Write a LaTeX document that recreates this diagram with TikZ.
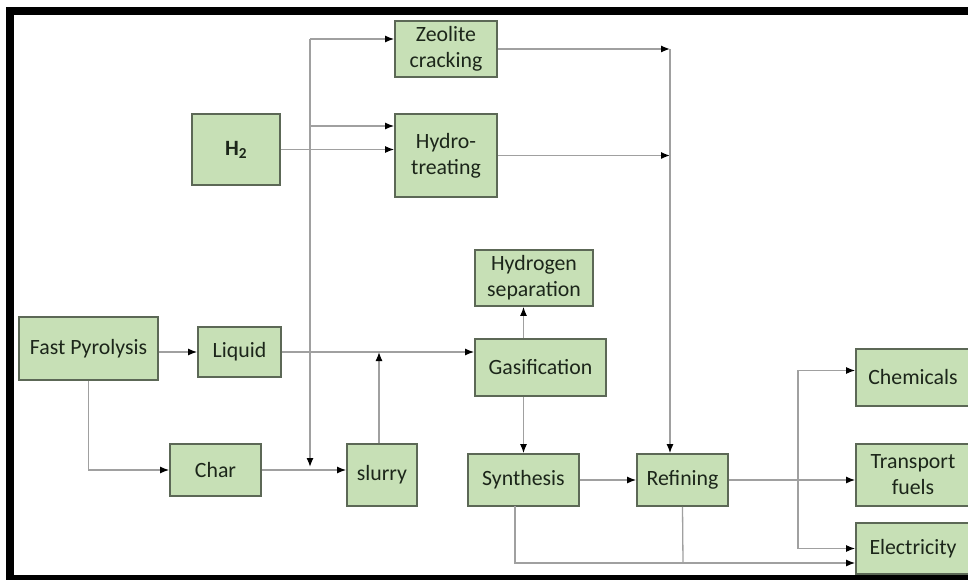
\documentclass[tikz,border=0pt]{standalone}
\usepackage{fontspec}
\setmainfont{Carlito}
\usetikzlibrary{positioning, arrows.meta, calc}
\definecolor{boxfill}{RGB}{199, 224, 182}
\definecolor{boxedge}{RGB}{92, 104, 86}
\definecolor{boxtext}{RGB}{28, 38, 26}
\definecolor{linegray}{RGB}{160, 160, 160}
\tikzset{
  procbox/.style={draw=boxedge, fill=boxfill, line width=1.8pt, align=center,
    inner sep=0pt, text=boxtext, font=\fontsize{21.8}{26}\selectfont},
  flow/.style={draw=linegray, line width=1.3pt},
  arr/.style={flow, -{Latex[length=9pt, width=7pt, color=black]}}
}

\begin{document}
\begin{tikzpicture}[x=1pt, y=-1pt]
                \useasboundingbox (0,0) rectangle (968,580);
                \clip (0,0) rectangle (968,580);
                % Frame
                \fill[black] (6,7) rectangle (968,15);
                \fill[black] (6,7) rectangle (14,580);
                \fill[black] (6,575) rectangle (968,580);

                % Boxes
                \node[procbox, minimum width=102, minimum height=56] (zeo) at (446,49) {Zeolite\\cracking};
                \node[procbox, minimum width=102, minimum height=83] (hyd) at (446,155.5) {Hydro-\\treating};
                \node[procbox, minimum width=88, minimum height=71] (htwo) at (236,149.5) {\textbf{H\textsubscript{2}}};
                \node[procbox, minimum width=118, minimum height=56] (hsep) at (534,278) {Hydrogen\\separation};
                \node[procbox, minimum width=139, minimum height=63] (fp) at (88.5,348.5) {Fast Pyrolysis};
                \node[procbox, minimum width=83, minimum height=50] (liq) at (239.5,352) {Liquid};
                \node[procbox, minimum width=91, minimum height=52] (char) at (215.5,470) {Char};
                \node[procbox, minimum width=70, minimum height=62] (slurry) at (382,475) {slurry};
                \node[procbox, minimum width=131, minimum height=57] (gas) at (540.5,367.5) {Gasification};
                \node[procbox, minimum width=111, minimum height=52] (syn) at (523.5,480) {Synthesis};
                \node[procbox, minimum width=91, minimum height=52] (ref) at (682.5,480) {Refining};
                \node[procbox, minimum width=114, minimum height=57] (chem) at (913,377.5) {Chemicals};
                \node[procbox, minimum width=114, minimum height=62] (tf) at (913,475) {Transport\\fuels};
                \node[procbox, minimum width=114, minimum height=51] (elec) at (913,548.5) {Electricity};

                % Junction points
                \coordinate (bustop) at (310,39);
                \coordinate (busmid) at (310,126);
                \coordinate (busbot) at (310,467);
                \coordinate (merge) at (379,352);
                \coordinate (collect) at (670,49);
                \coordinate (split) at (798,480);
                \coordinate (rail) at (683,563);
                \coordinate (synfoot) at (515,506);

                % Pyrolysis products
                \draw[arr] (fp.east |- liq.west) -- (liq.west);
                \draw[arr] (fp.south) |- (char.west);
                \draw[arr] (char.east) -- (slurry.west |- char.east);
                \draw[arr] (liq.east) -- (gas.west |- liq.east);
                \draw[arr] (merge |- slurry.north) -- (merge);

                % Upgrading bus
                \draw[arr] (bustop) -- (busbot);
                \draw[arr] (bustop) -- (zeo.west |- bustop);
                \draw[arr] (busmid) -- (hyd.west |- busmid);
                \draw[arr] (htwo.east) -- (hyd.west |- htwo.east);
                \draw[arr] (zeo.east) -- (collect |- zeo.east);
                \draw[arr] (hyd.east) -- (collect |- hyd.east);
                \draw[arr] (collect) -- (collect |- ref.north);

                % Gasification route
                \draw[arr] (gas.north -| syn.north) -- (hsep.south -| syn.north);
                \draw[arr] (gas.south -| syn.north) -- (syn.north);
                \draw[arr] (syn.east) -- (ref.west);

                % Products
                \draw[arr] (ref.east) -- (tf.west |- ref.east);
                \draw[arr] (split) |- ($(chem.west)+(0,-7)$);
                \draw[arr] (split) |- (elec.west);
                \draw[flow] (ref.south) -- (rail);
                \draw[arr] (synfoot) |- (elec.west |- rail);
            \end{tikzpicture}
\end{document}
